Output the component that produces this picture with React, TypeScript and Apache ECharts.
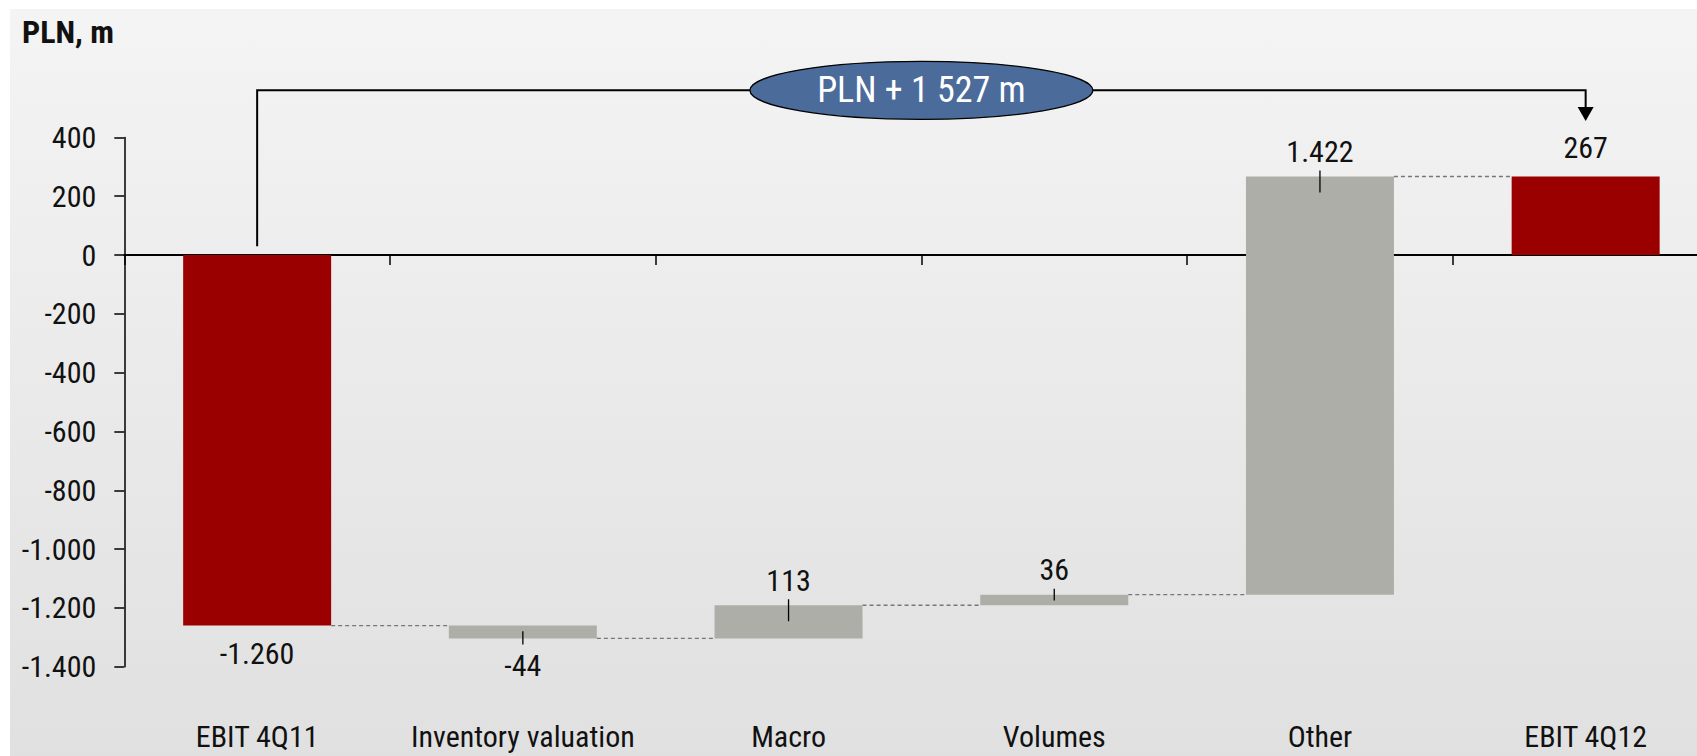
import React, { useEffect, useRef } from 'react';
import * as echarts from 'echarts';

const categories = ['EBIT 4Q11', 'Inventory valuation', 'Macro', 'Volumes', 'Other', 'EBIT 4Q12'];
const values = [-1260, -44, 113, 36, 1422, 267];
const isTotal = [true, false, false, false, false, true];
const yMin = -1400;
const yMax = 400;
const yStep = 200;
const unitLabel = 'PLN, m';
const bracketText = 'PLN + 1 527 m';
// bracket levels in data units
const bracketTop = 560;
const bracketStart = 30;
const arrowBase = 503;
const arrowTip = 456;

const FONT = '"Roboto Condensed", "Liberation Sans Narrow", "DejaVu Sans Condensed", sans-serif';

function fmt(v: number): string {
  const s = Math.abs(v).toString().replace(/\B(?=(\d{3})+(?!\d))/g, '.');
  return (v < 0 ? '-' : '') + s;
}

function buildBars() {
  let run = 0;
  return values.map((v, i) => {
    let start: number;
    let end: number;
    if (isTotal[i]) {
      start = 0;
      end = v;
    } else {
      start = run;
      end = run + v;
    }
    run = end;
    return [i, start, end, v, isTotal[i] ? 1 : 0];
  });
}

export default function App() {
  const ref = useRef<HTMLDivElement>(null);
  useEffect(() => {
    if (!ref.current) return;
    const chart = echarts.init(ref.current, undefined, { renderer: 'svg' });
    const bars = buildBars();
    const n = bars.length;
    const option: any = {
      animation: false,
      backgroundColor: '#ffffff',
      title: {
        text: unitLabel,
        left: 17,
        top: 11,
        textStyle: { fontFamily: FONT, fontSize: 32, fontWeight: 'bold', color: '#111' },
      },
      grid: {
        left: 124.3,
        top: 137.4,
        bottom: 89.3,
        width: 1594.2,
        containLabel: false,
        outerBoundsMode: 'none',
      },
      xAxis: [
        {
          type: 'category',
          data: categories,
          position: 'bottom',
          axisLine: { show: false, onZero: false },
          axisTick: { show: false },
          axisLabel: { interval: 0, margin: 55, fontFamily: FONT, fontSize: 30, color: '#111' },
          splitLine: { show: false },
        },
        {
          type: 'category',
          data: categories,
          position: 'bottom',
          axisLine: { show: true, onZero: true, lineStyle: { color: '#000', width: 2 } },
          axisTick: { show: true, length: 10, lineStyle: { color: '#000', width: 1.5 } },
          axisLabel: { show: false },
          splitLine: { show: false },
        },
      ],
      yAxis: {
        type: 'value',
        min: yMin,
        max: yMax,
        interval: yStep,
        axisLine: { show: true, lineStyle: { color: '#000', width: 1.5 } },
        axisTick: { show: true, length: 10, lineStyle: { color: '#000', width: 1.5 } },
        axisLabel: {
          margin: 28,
          fontFamily: FONT,
          fontSize: 30,
          color: '#111',
          formatter: (v: number) => fmt(v),
        },
        splitLine: { show: false },
      },
      graphic: [
        {
          id: 'bg',
          type: 'rect',
          z: -10,
          silent: true,
          shape: { x: 10, y: 9, width: 1697, height: 756 },
          style: {
            fill: new echarts.graphic.LinearGradient(0, 0, 0, 1, [
              { offset: 0, color: '#f4f4f4' },
              { offset: 1, color: '#e0e0e0' },
            ]),
          },
        },
      ],
      series: [
        {
          type: 'custom',
          xAxisIndex: 0,
          yAxisIndex: 0,
          clip: false,
          data: bars,
          renderItem: (params: any, api: any) => {
            const i = api.value(0);
            const s = api.value(1);
            const e = api.value(2);
            const v = api.value(3);
            const tot = api.value(4) === 1;
            const p0 = api.coord([i, s]);
            const p1 = api.coord([i, e]);
            const bw = api.size([1, 0])[0] * 0.557;
            const x = p0[0] - bw / 2;
            const top = Math.min(p0[1], p1[1]);
            const h = Math.abs(p1[1] - p0[1]);
            const up = e >= s;
            const endY = p1[1];
            const children: any[] = [
              {
                type: 'rect',
                shape: { x, y: top, width: bw, height: h },
                style: { fill: tot ? '#9B0000' : '#AEAEA9' },
              },
            ];
            if (!tot) {
              const inside = Math.min(16, h * 0.55);
              const y1 = up ? endY - 6 : endY + 6;
              const y2 = up ? endY + inside : endY - inside;
              children.push({
                type: 'line',
                shape: { x1: p0[0], y1, x2: p0[0], y2 },
                style: { stroke: '#000', lineWidth: 1.3 },
              });
            }
            const ly = up ? endY - (tot ? 29 : 25) : endY + 27.5;
            children.push({
              type: 'text',
              style: {
                text: fmt(v),
                x: p0[0],
                y: ly,
                align: 'center',
                verticalAlign: 'middle',
                fontFamily: FONT,
                fontSize: 30,
                fill: '#111',
              },
            });
            if (i < n - 1) {
              const nx = api.coord([i + 1, e])[0] - bw / 2;
              children.push({
                type: 'line',
                shape: { x1: x + bw, y1: endY, x2: nx, y2: endY },
                style: { stroke: '#777', lineWidth: 1.3, lineDash: [4, 3] },
              });
            }
            return { type: 'group', children };
          },
        },
      ],
    };
    chart.setOption(option);

    const left = chart.convertToPixel({ gridIndex: 0 }, [0, bracketStart]) as number[];
    const right = chart.convertToPixel({ gridIndex: 0 }, [n - 1, bracketTop]) as number[];
    const yTop = right[1];
    const yStart = left[1];
    const yArrowBase = (chart.convertToPixel({ gridIndex: 0 }, [n - 1, arrowBase]) as number[])[1];
    const yArrowTip = (chart.convertToPixel({ gridIndex: 0 }, [n - 1, arrowTip]) as number[])[1];
    const midX = (left[0] + right[0]) / 2;
    chart.setOption({
      graphic: [
        {
          id: 'bracket',
          type: 'polyline',
          z: 5,
          shape: {
            points: [
              [left[0], yStart],
              [left[0], yTop],
              [right[0], yTop],
              [right[0], yArrowBase],
            ],
          },
          style: { stroke: '#000', lineWidth: 2, fill: 'none' },
        },
        {
          id: 'arrow',
          type: 'polygon',
          z: 5,
          shape: {
            points: [
              [right[0] - 8, yArrowBase],
              [right[0] + 8, yArrowBase],
              [right[0], yArrowTip],
            ],
          },
          style: { fill: '#000' },
        },
        {
          id: 'ellipse',
          type: 'ellipse',
          z: 6,
          shape: { cx: midX, cy: yTop, rx: 171.5, ry: 29 },
          style: { fill: '#4B6C9B', stroke: '#000', lineWidth: 1.3 },
        },
        {
          id: 'ellipseText',
          type: 'text',
          z: 7,
          style: {
            text: bracketText,
            x: midX,
            y: yTop,
            align: 'center',
            verticalAlign: 'middle',
            fontFamily: FONT,
            fontSize: 36,
            fill: '#ffffff',
          },
        },
      ],
    });

    return () => chart.dispose();
  }, []);

  return <div ref={ref} style={{ position: 'fixed', left: 0, top: 0, width: 1697, height: 756 }} />;
}
